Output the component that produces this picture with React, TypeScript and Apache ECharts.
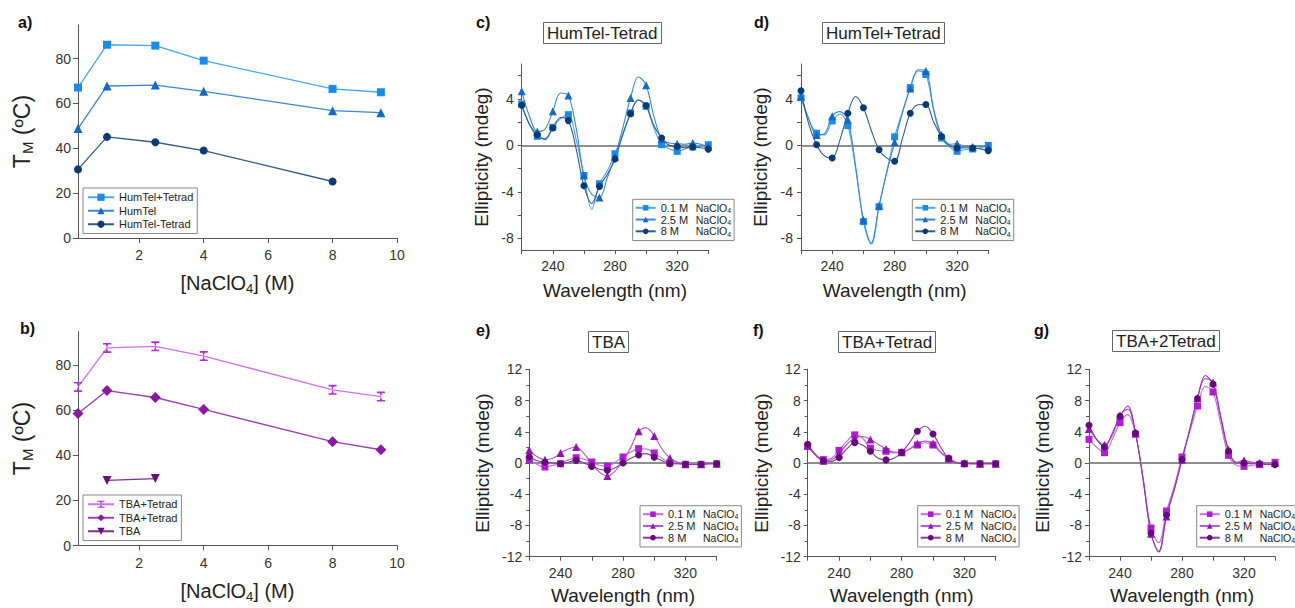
import React, { useEffect, useRef } from "react";
import * as echarts from "echarts";

// ---------- data: melting temperatures ----------
const NACLO4_M = [0.1, 1, 2.5, 4, 8, 9.5];
const TM_HUMTEL_PLUS_TETRAD = [67.1, 86.2, 85.8, 79.1, 66.5, 65.0];
const TM_HUMTEL = [48.8, 67.8, 68.2, 65.4, 56.8, 55.9];
const TM_HUMTEL_MINUS_TETRAD = [30.6, 45.1, 42.7, 39.0, 25.2];
const TM_TBA_HOURGLASS = [70.4, 87.7, 88.4, 84.1, 69.1, 66.1];
const TM_TBA_DIAMOND = [58.6, 68.8, 65.7, 60.4, 46.1, 42.5];
const NACLO4_M_TBA = [1, 2.5];
const TM_TBA = [28.9, 29.7];

const LEGEND_A = ["HumTel+Tetrad", "HumTel", "HumTel-Tetrad"];
const LEGEND_B = ["TBA+Tetrad", "TBA+Tetrad", "TBA"];
const CONC = ["0.1 M", "2.5 M", "8 M"];
const PANEL_TITLES = ["HumTel-Tetrad", "HumTel+Tetrad", "TBA", "TBA+Tetrad", "TBA+2Tetrad"];
const PANEL_LETTERS = ["a)", "b)", "c)", "d)", "e)", "f)", "g)"];

const TM_TICKS = [0, 20, 40, 60, 80];
const M_TICKS = [2, 4, 6, 8, 10];
const WL_LABELS = [240, 280, 320];
const HUM_CD_LABELS = [-8, -4, 0, 4];
const HUM_CD_TICKS = [-8, -6, -4, -2, 0, 2, 4, 6];

// ---------- data: CD spectra (mdeg), 220..340 nm every 5 nm ----------
const WAVELENGTH = [220, 225, 230, 235, 240, 245, 250, 255, 260, 265, 270, 275, 280, 285, 290, 295, 300, 305, 310, 315, 320, 325, 330, 335, 340];

const C_01 = [3.56, 1.8, 0.78, 0.6, 1.55, 2.3, 2.64, 0.5, -2.59, -5.5, -3.3, -2.2, -0.72, 1.0, 2.79, 3.9, 3.36, 1.5, 0.06, -0.3, -0.52, -0.3, -0.14, -0.1, 0.06];
const C_25 = [4.65, 2.5, 1.2, 1.4, 2.93, 4.5, 4.28, 1.5, -2.6, -4.2, -4.48, -2.8, -0.95, 1.5, 4.08, 5.9, 5.17, 2.5, 0.55, 0.2, 0.14, 0.1, 0.2, 0.1, -0.1];
const C_8 = [3.45, 1.8, 0.92, 0.5, 1.5, 2.4, 2.13, -0.3, -3.48, -5.0, -3.53, -2.5, -1.18, 0.9, 2.73, 3.9, 3.42, 1.7, 0.63, 0.0, -0.09, -0.2, -0.14, -0.2, -0.32];

const D_01 = [4.1, 2.2, 1.05, 0.9, 2.1, 2.7, 1.7, -2.0, -6.56, -8.5, -5.28, -2.2, 0.74, 2.9, 4.97, 6.4, 6.1, 3.0, 0.63, -0.1, -0.51, -0.35, -0.31, -0.2, 0.0];
const D_25 = [4.2, 2.3, 0.9, 1.0, 2.5, 2.9, 2.2, -1.8, -6.4, -8.4, -5.2, -2.3, 0.26, 2.8, 4.9, 6.5, 6.4, 3.1, 0.9, 0.1, 0.14, -0.1, -0.14, -0.1, -0.1];
const D_8 = [4.7, 1.8, 0.06, -0.9, -1.08, 0.5, 2.76, 4.2, 3.24, 1.3, -0.37, -1.1, -1.36, 0.6, 2.76, 3.5, 3.52, 2.0, 0.77, 0.0, -0.23, -0.2, -0.23, -0.3, -0.45];

const E_01 = [0.43, -0.2, -0.51, -0.3, -0.09, 0.4, 0.68, 0.5, 0.13, -0.3, -0.43, 0.1, 0.77, 1.4, 1.84, 1.8, 1.28, 0.6, 0.0, -0.1, -0.17, -0.2, -0.17, -0.1, -0.09];
const E_25 = [1.62, 0.8, 0.43, 0.6, 1.28, 1.8, 2.05, 1.2, -0.1, -1.2, -1.67, -1.0, 0.34, 2.0, 4.06, 4.5, 3.46, 1.8, 0.64, 0.1, -0.17, -0.2, -0.17, -0.1, -0.09];
const E_8 = [0.77, 0.3, 0.13, 0.0, -0.09, 0.1, 0.34, 0.0, -0.43, -0.8, -0.94, -0.6, 0.0, 0.6, 1.03, 1.2, 0.73, 0.3, -0.09, -0.1, -0.17, -0.2, -0.17, -0.1, -0.09];

const F_01 = [2.14, 1.0, 0.43, 0.6, 1.62, 2.8, 3.6, 3.2, 1.9, 1.6, 1.5, 1.3, 1.37, 1.8, 2.3, 2.6, 2.3, 1.3, 0.5, 0.0, -0.1, -0.1, -0.1, -0.1, -0.1];
const F_25 = [2.2, 1.0, 0.3, 0.4, 1.2, 2.4, 3.2, 3.4, 3.0, 2.4, 1.8, 1.4, 1.37, 1.8, 2.5, 2.8, 2.5, 1.4, 0.6, 0.1, 0.0, -0.1, -0.1, -0.1, -0.1];
const F_8 = [2.4, 1.1, 0.3, 0.2, 0.7, 1.8, 2.6, 2.3, 1.5, 0.6, 0.4, 0.6, 1.37, 2.6, 4.06, 4.7, 3.72, 2.0, 0.6, 0.0, -0.1, -0.1, -0.1, -0.1, -0.1];

const G_01 = [3.03, 2.0, 1.32, 3.0, 5.17, 6.2, 3.68, -2.0, -8.33, -10.2, -6.15, -3.0, 0.77, 4.0, 7.3, 9.8, 9.1, 5.0, 0.98, -0.3, -0.43, -0.3, -0.21, 0.0, 0.09];
const G_25 = [4.4, 3.0, 2.35, 3.5, 6.1, 6.9, 3.85, -2.2, -9.06, -11.3, -6.84, -3.4, 0.43, 4.3, 8.33, 10.8, 10.3, 6.0, 1.71, 0.1, 0.34, 0.1, 0.0, 0.0, 0.0];
const G_8 = [4.83, 3.0, 2.05, 3.8, 5.98, 7.3, 3.85, -2.3, -8.97, -11.4, -6.7, -3.4, 0.43, 4.3, 8.25, 11.2, 10.1, 5.8, 1.54, 0.0, 0.0, -0.1, -0.09, -0.2, -0.21];

const CD_PANELS = [
  [C_01, C_25, C_8],
  [D_01, D_25, D_8],
  [E_01, E_25, E_8],
  [F_01, F_25, F_8],
  [G_01, G_25, G_8],
];

// ---------- styling ----------
const FONT = "Liberation Sans, Arial, Helvetica, sans-serif";
const AXIS_COLOR = "#555";
const BLUE = { sq: "#1b8be6", tri: "#1769c4", cir: "#0c3a73" };
const BLUE_LINE = { sq: "#4aa6ee", tri: "#3b86d6", cir: "#33598a" };
const PURPLE = { sq: "#b01ed2", tri: "#9316b3", cir: "#650c7a" };
const PURPLE_LINE = { sq: "#c76ae6", tri: "#b653d6", cir: "#8a3aa0" };
const HOURGLASS = "path://M0,0L10,0L10,1.6L6.4,1.6L5,5L6.4,8.4L10,8.4L10,10L0,10L0,8.4L3.6,8.4L5,5L3.6,1.6L0,1.6Z";

const GRIDS = [
  { left: 78, top: 25, width: 319, height: 213 },
  { left: 78, top: 331.5, width: 319, height: 214 },
  { left: 521.7, top: 64, width: 186.6, height: 186 },
  { left: 801, top: 64, width: 187.3, height: 186 },
  { left: 529.3, top: 369.3, width: 187.4, height: 187.4 },
  { left: 807.7, top: 369.3, width: 188, height: 187.4 },
  { left: 1089, top: 369.3, width: 186, height: 187.4 },
];
const CD_LEGEND_POS = [
  { left: 632.7, top: 199.3 },
  { left: 912.3, top: 199.3 },
  { left: 640, top: 505.7 },
  { left: 917.7, top: 505.7 },
  { left: 1196.7, top: 505.7 },
];
const TITLE_POS = [
  { left: 543, top: 22 },
  { left: 822, top: 22 },
  { left: 588, top: 331 },
  { left: 838, top: 331 },
  { left: 1112, top: 330 },
];
const LETTER_POS = [
  [18, 14], [20, 320], [476, 14], [754, 14], [476, 322], [753, 322], [1034, 322],
];

function baseAxis(extra: any) {
  return {
    type: "value",
    axisLine: { show: true, onZero: false, lineStyle: { color: AXIS_COLOR, width: 1 } },
    axisTick: { show: true, length: 4, lineStyle: { color: AXIS_COLOR } },
    axisLabel: { color: "#333", fontSize: 14, fontFamily: FONT },
    splitLine: { show: false },
    nameLocation: "middle",
    ...extra,
  };
}

export default function App() {
  const ref = useRef<HTMLDivElement>(null);

  useEffect(() => {
    if (!ref.current) return;
    const chart = echarts.init(ref.current, undefined, { renderer: "svg" });

    const xAxes: any[] = [];
    const yAxes: any[] = [];
    const series: any[] = [];
    const legends: any[] = [];
    const labelMap: Record<string, string> = {};

    // Panels a, b
    for (let p = 0; p < 2; p++) {
      xAxes.push(
        baseAxis({
          gridIndex: p,
          min: 0.1,
          max: 10,
          axisLabel: { color: "#333", fontSize: 14, fontFamily: FONT, margin: 10, customValues: M_TICKS },
          axisTick: { show: true, length: 5, lineStyle: { color: AXIS_COLOR }, customValues: M_TICKS },
          name: "[NaClO{s|4}] (M)",
          nameGap: 33,
          nameTextStyle: {
            fontSize: 20, color: "#222", fontFamily: FONT, lineHeight: 24,
            rich: { s: { fontSize: 13, lineHeight: 13, verticalAlign: "bottom", fontFamily: FONT, color: "#222" } },
          },
        })
      );
      yAxes.push(
        baseAxis({
          gridIndex: p,
          min: 0,
          max: 95,
          axisLabel: { color: "#333", fontSize: 14, fontFamily: FONT, margin: 7, customValues: TM_TICKS },
          axisTick: { show: true, length: 5, lineStyle: { color: AXIS_COLOR }, customValues: TM_TICKS },
          name: "T{s|M} (ºC)",
          nameGap: 43,
          nameRotate: 90,
          nameTextStyle: {
            fontSize: 23, color: "#222", fontFamily: FONT, lineHeight: 27,
            rich: { s: { fontSize: 15, lineHeight: 15, verticalAlign: "bottom", fontFamily: FONT, color: "#222" } },
          },
        })
      );
    }

    const aSpecs = [
      { vals: TM_HUMTEL_PLUS_TETRAD, sym: "rect", size: 8, c: BLUE.sq, lc: BLUE_LINE.sq },
      { vals: TM_HUMTEL, sym: "triangle", size: 9, c: BLUE.tri, lc: BLUE_LINE.tri },
      { vals: TM_HUMTEL_MINUS_TETRAD, sym: "circle", size: 8, c: BLUE.cir, lc: BLUE_LINE.cir },
    ];
    aSpecs.forEach((s, k) => {
      const name = "a" + k;
      labelMap[name] = LEGEND_A[k];
      series.push({
        type: "line", name, xAxisIndex: 0, yAxisIndex: 0,
        data: s.vals.map((v, i) => [NACLO4_M[i], v]),
        symbol: s.sym, symbolSize: s.size,
        itemStyle: { color: s.c }, lineStyle: { color: s.lc, width: 1.3 },
      });
    });
    const bSpecs = [
      { x: NACLO4_M, vals: TM_TBA_HOURGLASS, sym: HOURGLASS, size: [8, 10], rot: 0, c: "#b42be0", lc: "#cf72f0" },
      { x: NACLO4_M, vals: TM_TBA_DIAMOND, sym: "diamond", size: 11, rot: 0, c: "#8b1aa0", lc: "#9c40b4" },
      { x: NACLO4_M_TBA, vals: TM_TBA, sym: "triangle", size: 9, rot: 180, c: "#6a0e7e", lc: "#7a3090" },
    ];
    bSpecs.forEach((s, k) => {
      const name = "b" + k;
      labelMap[name] = LEGEND_B[k];
      series.push({
        type: "line", name, xAxisIndex: 1, yAxisIndex: 1,
        data: s.vals.map((v, i) => [s.x[i], v]),
        symbol: s.sym, symbolSize: s.size, symbolRotate: s.rot,
        itemStyle: { color: s.c }, lineStyle: { color: s.lc, width: 1.3 },
      });
    });

    const tmLegendBase = {
      orient: "vertical", itemWidth: 26, itemHeight: 9, itemGap: 1, padding: [3, 4, 3, 4],
      borderColor: "#888", borderWidth: 1, selectedMode: false,
      textStyle: { fontSize: 11, color: "#222", fontFamily: FONT, lineHeight: 12.5 },
      formatter: (n: string) => labelMap[n] || n,
    };
    legends.push({ ...tmLegendBase, data: ["a0", "a1", "a2"], left: 83, top: 188 });
    legends.push({ ...tmLegendBase, data: ["b0", "b1", "b2"], left: 83, top: 495 });

    // CD panels c..g
    CD_PANELS.forEach((panel, j) => {
      const gi = j + 2;
      const isHum = j < 2;
      xAxes.push(
        baseAxis({
          gridIndex: gi, min: 220, max: 340, interval: 20,
          axisLabel: { color: "#333", fontSize: 14, fontFamily: FONT, margin: 9, customValues: WL_LABELS },
          axisTick: { show: true, length: 4, lineStyle: { color: AXIS_COLOR } },
          name: "Wavelength (nm)", nameGap: isHum ? 31 : 29,
          nameTextStyle: { fontSize: 19, color: "#222", fontFamily: FONT },
        })
      );
      yAxes.push(
        baseAxis(
          isHum
            ? {
                gridIndex: gi, min: -9, max: 7,
                axisLabel: { color: "#333", fontSize: 14, fontFamily: FONT, margin: 8, customValues: HUM_CD_LABELS },
                axisTick: { show: true, length: 4, lineStyle: { color: AXIS_COLOR }, customValues: HUM_CD_TICKS },
                name: "Ellipticity (mdeg)", nameGap: 31, nameRotate: 90,
                nameTextStyle: { fontSize: 19, color: "#222", fontFamily: FONT },
              }
            : {
                gridIndex: gi, min: -12, max: 12, interval: 4,
                axisLabel: { color: "#333", fontSize: 14, fontFamily: FONT, margin: 7 },
                axisTick: { show: true, length: 4, lineStyle: { color: AXIS_COLOR } },
                minorTick: { show: true, splitNumber: 2, length: 3, lineStyle: { color: AXIS_COLOR } },
                name: "Ellipticity (mdeg)", nameGap: 37, nameRotate: 90,
                nameTextStyle: { fontSize: 19, color: "#222", fontFamily: FONT },
              }
        )
      );
      const col = isHum ? BLUE : PURPLE;
      const lcol = isHum ? BLUE_LINE : PURPLE_LINE;
      const specs = [
        { sym: "rect", size: 7, c: col.sq, lc: lcol.sq },
        { sym: "triangle", size: 8, c: col.tri, lc: lcol.tri },
        { sym: "circle", size: 7, c: col.cir, lc: lcol.cir },
      ];
      const names: string[] = [];
      panel.forEach((vals, k) => {
        const name = "cd" + j + "_" + k;
        names.push(name);
        labelMap[name] = CONC[k];
        const s: any = {
          type: "line", name, xAxisIndex: gi, yAxisIndex: gi,
          smooth: 0.35,
          data: WAVELENGTH.map((w, i) =>
            w % 10 === 0 ? { value: [w, vals[i]] } : { value: [w, vals[i]], symbol: "none" }
          ),
          symbol: specs[k].sym, symbolSize: specs[k].size,
          itemStyle: { color: specs[k].c }, lineStyle: { color: specs[k].lc, width: 1.1 },
          z: 3,
        };
        if (k === 0) {
          s.markLine = {
            silent: true, symbol: ["none", "none"], label: { show: false },
            lineStyle: { color: "#6a6a6a", type: "solid", width: 1.5 },
            data: [{ yAxis: 0 }], z: 1,
          };
        }
        series.push(s);
      });
      legends.push({
        data: names,
        orient: "vertical",
        left: CD_LEGEND_POS[j].left, top: CD_LEGEND_POS[j].top,
        itemWidth: 20, itemHeight: 7, itemGap: 0, padding: [3, 3, 3, 2],
        borderColor: "#888", borderWidth: 1, selectedMode: false,
        formatter: (n: string) => "{c|" + labelMap[n] + "}{n|NaClO}{s|4}",
        textStyle: {
          fontSize: 11, color: "#222", fontFamily: FONT,
          rich: {
            c: { width: 35, fontSize: 11, lineHeight: 12.5, fontFamily: FONT, color: "#222" },
            n: { fontSize: 10.5, lineHeight: 12.5, fontFamily: FONT, color: "#222" },
            s: { fontSize: 7, lineHeight: 7, verticalAlign: "bottom", fontFamily: FONT, color: "#222" },
          },
        },
      });
    });

    const titles = PANEL_TITLES.map((t, i) => ({
      text: t,
      left: TITLE_POS[i].left,
      top: TITLE_POS[i].top,
      padding: [3, 4, 2, 4],
      borderColor: "#666",
      borderWidth: 1,
      textStyle: { fontSize: 17, fontWeight: "normal", color: "#222", fontFamily: FONT },
    }));

    const graphic = PANEL_LETTERS.map((t, i) => ({
      type: "text",
      left: LETTER_POS[i][0],
      top: LETTER_POS[i][1],
      style: { text: t, font: "bold 16px " + FONT, fill: "#111" },
    }));

    chart.setOption({
      animation: false,
      backgroundColor: "#fff",
      textStyle: { fontFamily: FONT },
      title: titles,
      grid: GRIDS,
      xAxis: xAxes,
      yAxis: yAxes,
      legend: legends,
      series,
      graphic,
    });

    return () => chart.dispose();
  }, []);

  return (
    <div
      ref={ref}
      style={{ position: "absolute", left: 0, top: 0, width: 1295, height: 608, background: "#fff" }}
    />
  );
}
